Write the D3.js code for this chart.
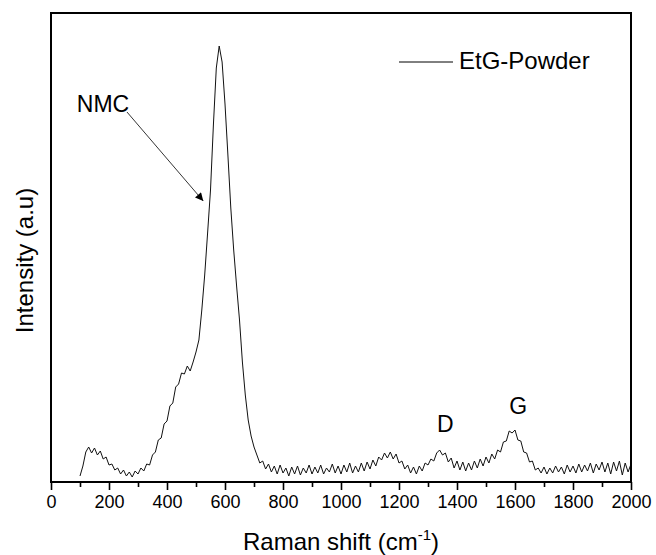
<!DOCTYPE html>
<html>
<head>
<meta charset="utf-8">
<script src="https://cdn.jsdelivr.net/npm/d3@7"></script>
<style>
  body { margin: 0; background: #fff; }
  svg { display: block; font-family: "Liberation Sans", Arial, sans-serif; }
</style>
</head>
<body>
<div id="chart"></div>
<script>
// Raman spectrum of EtG-Powder (a.u.)
var ramanShift = [
  100, 110, 120, 130, 140, 150, 160, 170, 180, 190,
  200, 210, 220, 230, 240, 250, 260, 270, 280, 290,
  300, 310, 320, 330, 340, 350, 360, 370, 380, 390,
  400, 410, 420, 430, 440, 450, 460, 470, 480, 490,
  500, 510, 520, 530, 540, 550, 560, 570, 580, 590,
  600, 610, 620, 630, 640, 650, 660, 670, 680, 690,
  700, 710, 720, 730, 740, 750, 760, 770, 780, 790,
  800, 810, 820, 830, 840, 850, 860, 870, 880, 890,
  900, 910, 920, 930, 940, 950, 960, 970, 980, 990,
  1000, 1010, 1020, 1030, 1040, 1050, 1060, 1070, 1080, 1090,
  1100, 1110, 1120, 1130, 1140, 1150, 1160, 1170, 1180, 1190,
  1200, 1210, 1220, 1230, 1240, 1250, 1260, 1270, 1280, 1290,
  1300, 1310, 1320, 1330, 1340, 1350, 1360, 1370, 1380, 1390,
  1400, 1410, 1420, 1430, 1440, 1450, 1460, 1470, 1480, 1490,
  1500, 1510, 1520, 1530, 1540, 1550, 1560, 1570, 1580, 1590,
  1600, 1610, 1620, 1630, 1640, 1650, 1660, 1670, 1680, 1690,
  1700, 1710, 1720, 1730, 1740, 1750, 1760, 1770, 1780, 1790,
  1800, 1810, 1820, 1830, 1840, 1850, 1860, 1870, 1880, 1890,
  1900, 1910, 1920, 1930, 1940, 1950, 1960, 1970, 1980, 1990,
  2000
];
var intensity = [
  6, 16, 30, 35, 29, 34, 27, 31, 23, 25,
  17, 18, 12, 14, 8, 12, 6, 10, 5, 11,
  8, 14, 11, 18, 17, 27, 30, 42, 44, 58,
  61, 76, 79, 95, 98, 109, 108, 116, 111, 120,
  130, 142, 172, 207, 249, 292, 357, 414, 436, 420,
  378, 327, 274, 232, 196, 162, 120, 87, 62, 46,
  35, 27, 19, 21, 13, 18, 10, 16, 8, 17,
  9, 14, 6, 15, 8, 16, 7, 14, 9, 17,
  8, 15, 9, 17, 8, 14, 10, 18, 9, 16,
  8, 17, 10, 19, 9, 16, 10, 19, 11, 20,
  13, 22, 16, 25, 22, 29, 24, 30, 23, 28,
  19, 21, 13, 17, 9, 15, 8, 16, 11, 19,
  17, 23, 21, 29, 32, 27, 29, 20, 24, 14,
  21, 12, 20, 11, 19, 12, 21, 14, 23, 16,
  25, 19, 28, 23, 32, 30, 40, 41, 51, 49,
  52, 42, 41, 30, 29, 20, 21, 12, 14, 9,
  15, 8, 14, 9, 16, 10, 15, 8, 17, 10,
  16, 9, 18, 10, 17, 11, 19, 9, 18, 12,
  20, 10, 19, 8, 20, 11, 21, 7, 19, 10,
  18
];
var seriesName = 'EtG-Powder';
var xMajorTicks = [0, 200, 400, 600, 800, 1000, 1200, 1400, 1600, 1800, 2000];
var xMinorTicks = [100, 300, 500, 700, 900, 1100, 1300, 1500, 1700, 1900];
var peakLabels = ['D', 'G'];
var peakLabelShift = [1360, 1611];
var peakLabelValue = [50, 68];

var width = 656, height = 555;
var margin = { top: 13, right: 25, bottom: 73, left: 51 };
var iw = width - margin.left - margin.right;
var ih = height - margin.top - margin.bottom;

var x = d3.scaleLinear().domain([0, 2000]).range([margin.left, margin.left + iw]);
var y = d3.scaleLinear().domain([0, 469]).range([margin.top + ih, margin.top]);

var svg = d3.select('#chart').append('svg').attr('width', width).attr('height', height);

svg.append('defs').append('marker')
  .attr('id', 'arrow').attr('viewBox', '0 0 10 10').attr('refX', 10).attr('refY', 5)
  .attr('markerWidth', 12).attr('markerHeight', 8).attr('markerUnits', 'userSpaceOnUse')
  .attr('orient', 'auto')
  .append('path').attr('d', 'M0,0 L10,5 L0,10 Z').attr('fill', '#000');

// spectrum
var pts = ramanShift.map(function (s, i) { return [s, intensity[i]]; });
var line = d3.line().x(function (d) { return x(d[0]); }).y(function (d) { return y(d[1]); });
svg.append('path').datum(pts).attr('d', line)
  .attr('fill', 'none').attr('stroke', '#111').attr('stroke-width', 1).attr('stroke-linejoin', 'round');

// x axis with major + minor ticks
var axisY = margin.top + ih;
var xAxis = svg.append('g').attr('transform', 'translate(0,' + axisY + ')')
  .call(d3.axisBottom(x).tickValues(xMajorTicks).tickSize(8).tickPadding(5).tickFormat(d3.format('d')));
xAxis.select('.domain').remove();
xAxis.selectAll('.tick line').attr('stroke', '#000').attr('stroke-width', 1.6);
xAxis.selectAll('text').attr('fill', '#000').attr('font-size', 18).attr('font-family', '"Liberation Sans", Arial, sans-serif');
var xMinor = svg.append('g').attr('transform', 'translate(0,' + axisY + ')')
  .call(d3.axisBottom(x).tickValues(xMinorTicks).tickSize(5).tickFormat(''));
xMinor.select('.domain').remove();
xMinor.selectAll('.tick line').attr('stroke', '#000').attr('stroke-width', 1.6);

// frame
svg.append('rect').attr('x', margin.left).attr('y', margin.top).attr('width', iw).attr('height', ih)
  .attr('fill', 'none').attr('stroke', '#000').attr('stroke-width', 2);

// axis titles
var xt = svg.append('text').attr('x', margin.left + iw / 2).attr('y', 550)
  .attr('text-anchor', 'middle').attr('font-size', 24).attr('fill', '#000');
xt.append('tspan').text('Raman shift (cm');
xt.append('tspan').attr('font-size', 15).attr('dy', -10).text('-1');
xt.append('tspan').attr('dy', 10).text(')');

svg.append('text').attr('transform', 'translate(33,' + (margin.top + ih / 2 + 13) + ') rotate(-90)')
  .attr('text-anchor', 'middle').attr('font-size', 24).attr('fill', '#000').text('Intensity (a.u)');

// legend
svg.append('line').attr('x1', 399).attr('x2', 453).attr('y1', 62).attr('y2', 62)
  .attr('stroke', '#000').attr('stroke-width', 1);
svg.append('text').attr('x', 459).attr('y', 69).attr('font-size', 24).attr('fill', '#000').text(seriesName);

// peak annotations
peakLabels.forEach(function (lab, i) {
  svg.append('text').attr('x', x(peakLabelShift[i])).attr('y', y(peakLabelValue[i]))
    .attr('text-anchor', 'middle').attr('font-size', 23).attr('fill', '#000').text(lab);
});

// NMC label + arrow
svg.append('text').attr('x', x(89)).attr('y', y(370)).attr('font-size', 23).attr('fill', '#000').text('NMC');
svg.append('line').attr('x1', x(262)).attr('y1', y(370)).attr('x2', x(525)).attr('y2', y(281))
  .attr('stroke', '#000').attr('stroke-width', 0.8).attr('marker-end', 'url(#arrow)');
</script>
</body>
</html>
